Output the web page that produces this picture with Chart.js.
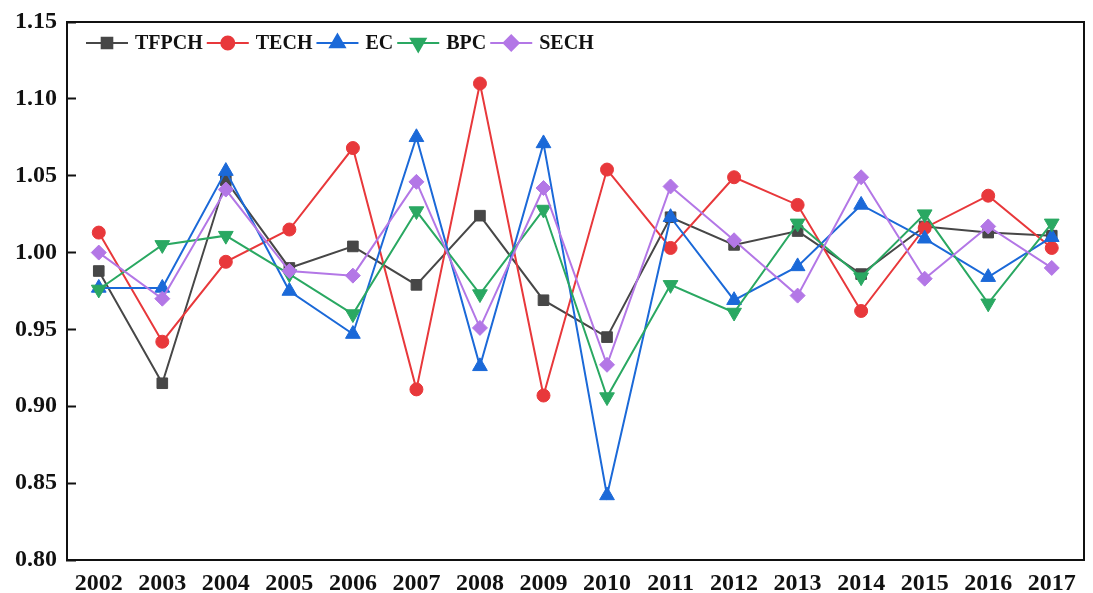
<!DOCTYPE html>
<html>
<head>
<meta charset="utf-8">
<title>TFPCH decomposition 2002-2017</title>
<script src="https://cdn.jsdelivr.net/npm/chart.js@4/dist/chart.umd.min.js"></script>
<style>
    html, body { margin: 0; padding: 0; background: #fff; }
    #wrap { width: 1093px; height: 593px; position: relative; }
</style>
</head>
<body>
<div id="wrap"><canvas id="chart"></canvas></div>
<script>
// ── Data ──────────────────────────────────────────────────────────────

const years = ['2002', '2003', '2004', '2005', '2006', '2007', '2008', '2009',
               '2010', '2011', '2012', '2013', '2014', '2015', '2016', '2017'];

const tfpch = [0.988, 0.915, 1.047, 0.990, 1.004, 0.979, 1.024, 0.969,
               0.945, 1.023, 1.005, 1.014, 0.986, 1.017, 1.013, 1.011];
const tech  = [1.013, 0.942, 0.994, 1.015, 1.068, 0.911, 1.110, 0.907,
               1.054, 1.003, 1.049, 1.031, 0.962, 1.016, 1.037, 1.003];
const ec    = [0.977, 0.977, 1.053, 0.975, 0.947, 1.075, 0.926, 1.071,
               0.842, 1.023, 0.969, 0.991, 1.031, 1.009, 0.984, 1.010];
const bpc   = [0.976, 1.005, 1.011, 0.986, 0.960, 1.027, 0.973, 1.028,
               0.906, 0.979, 0.961, 1.019, 0.984, 1.025, 0.967, 1.019];
const sech  = [1.000, 0.970, 1.041, 0.988, 0.985, 1.046, 0.951, 1.042,
               0.927, 1.043, 1.008, 0.972, 1.049, 0.983, 1.017, 0.990];

const yTicks = [0.80, 0.85, 0.90, 0.95, 1.00, 1.05, 1.10, 1.15];

const FONT = '"Liberation Serif", "Times New Roman", serif';

// ── Series ────────────────────────────────────────────────────────────

// later series are painted over earlier ones, as in the original figure
function series(label, data, color, style, radius, order, rotation) {
    return {
        label, data, order,
        borderColor: color,
        backgroundColor: color,
        pointBackgroundColor: color,
        pointBorderColor: color,
        borderWidth: 2,
        pointBorderWidth: 1,
        pointStyle: style,
        pointRadius: radius,
        pointRotation: rotation || 0,
        tension: 0,
    };
}

const datasets = [
    series('TFPCH', tfpch, '#474747', 'rect',     7.5, 5),
    series('TECH',  tech,  '#e8383b', 'circle',   6.5, 4),
    series('EC',    ec,    '#1b69d8', 'triangle', 8.5, 3),
    series('BPC',   bpc,   '#2aa862', 'triangle', 8.5, 2, 180),
    series('SECH',  sech,  '#b377e6', 'rectRot',  7.5, 1),
];

// ── Legend drawn inside the plot area ─────────────────────────────────

const innerLegend = {
    id: 'innerLegend',
    afterDraw(chart) {
        const ctx = chart.ctx;
        const area = chart.chartArea;
        let x = area.left + 19;
        const y = area.top + 21;
        ctx.save();
        ctx.font = 'bold 20px ' + FONT;
        ctx.textBaseline = 'middle';
        chart.data.datasets.forEach(ds => {
            ctx.strokeStyle = ds.borderColor;
            ctx.fillStyle = ds.borderColor;
            ctx.lineWidth = 2;
            ctx.beginPath();
            ctx.moveTo(x, y);
            ctx.lineTo(x + 42, y);
            ctx.stroke();
            Chart.helpers.drawPoint(ctx, {
                pointStyle: ds.pointStyle,
                rotation: ds.pointRotation,
                radius: ds.pointRadius,
                borderWidth: 1,
            }, x + 21, y);
            ctx.fillStyle = '#111';
            ctx.fillText(ds.label, x + 49, y + 1);
            x += 49 + ctx.measureText(ds.label).width + 4;
        });
        ctx.restore();
    }
};

// ── Chart ─────────────────────────────────────────────────────────────

const tickFont = { family: FONT, size: 24, weight: 'bold' };

new Chart(document.getElementById('chart'), {
    type: 'line',
    data: { labels: years, datasets },
    options: {
        responsive: true,
        maintainAspectRatio: false,
        animation: false,
        layout: { padding: { left: 0, right: 7, top: 22, bottom: 0 } },
        plugins: {
            legend: { display: false },
            tooltip: { enabled: false },
        },
        scales: {
            x: {
                type: 'category',
                offset: true,
                grid: { display: false, drawTicks: false },
                border: { display: true, color: '#111', width: 2 },
                ticks: { font: tickFont, color: '#111', padding: 9, maxRotation: 0, autoSkip: false },
                afterFit: s => { s.height = 33; s.paddingLeft = 0; s.paddingRight = 0; },
            },
            xTop: {
                type: 'category',
                position: 'top',
                offset: true,
                grid: { display: false, drawTicks: false },
                border: { display: true, color: '#111', width: 2 },
                ticks: { display: false },
                afterFit: s => { s.height = 0; },
            },
            y: {
                min: yTicks[0],
                max: yTicks[yTicks.length - 1],
                afterBuildTicks: s => { s.ticks = yTicks.map(v => ({ value: v })); },
                // negative tick length -> tick marks point into the plot
                grid: { drawOnChartArea: false, drawTicks: true, tickLength: -9, tickWidth: 2, tickColor: '#111' },
                border: { display: true, color: '#111', width: 2 },
                ticks: {
                    font: tickFont, color: '#111', padding: 19,
                    callback: v => Number(v).toFixed(2),
                },
                afterFit: s => { s.width = 67; s.paddingTop = 0; s.paddingBottom = 0; },
            },
            yRight: {
                position: 'right',
                min: yTicks[0],
                max: yTicks[yTicks.length - 1],
                grid: { display: false, drawTicks: false },
                border: { display: true, color: '#111', width: 2 },
                ticks: { display: false },
                afterFit: s => { s.width = 0; },
            },
        },
    },
    plugins: [innerLegend],
});
</script>
</body>
</html>
